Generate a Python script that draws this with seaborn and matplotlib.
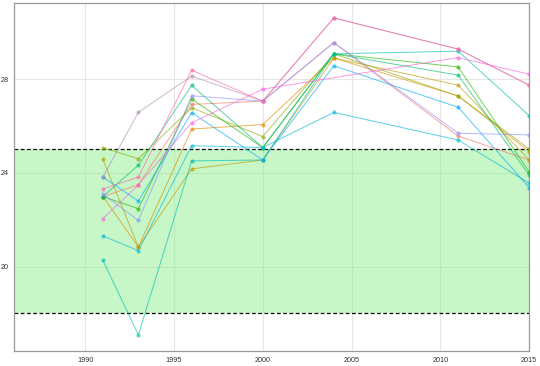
import numpy as np
import pandas as pd
import matplotlib
matplotlib.use("Agg")
import matplotlib.pyplot as plt
import seaborn as sns

years = [1991, 1993, 1996, 2000, 2004, 2011, 2015]
series_names = ["S01", "S02", "S03", "S04", "S05", "S06", "S07",
                "S08", "S09", "S10", "S11", "S12", "S13"]
s01 = [22.99, 23.49, 26.92, 27.06, 29.56, 25.57, 24.55]
s02 = [22.99, 20.84, 25.87, 26.06, 28.90, 27.28, 24.91]
s03 = [24.58, 20.84, 24.17, 24.55, 28.90, 27.74, 24.55]
s04 = [25.08, 24.60, 26.78, 25.55, 29.08, 27.28, 25.02]
s05 = [22.99, 22.47, 27.15, 25.08, 29.08, 28.52, 24.04]
s06 = [22.99, 24.33, 27.73, 25.08, 29.08, 28.17, 23.90]
s07 = [20.27, 17.09, 24.51, 24.55, 29.08, 29.19, 26.44]
s08 = [21.31, 20.68, 25.16, 25.08, 26.58, 25.40, 23.56]
s09 = [23.82, 22.80, 26.57, 24.55, 28.57, 26.80, 23.37]
s10 = [23.10, 21.97, 27.29, 27.06, 29.56, 25.69, 25.62]
s11 = [23.82, 26.58, 28.13, 27.06, 30.61, 29.28, 27.74]
s12 = [22.04, 23.49, 26.14, 27.57, np.nan, 28.92, 28.21]
s13 = [23.31, 23.82, 28.38, 27.06, 30.61, 29.28, 27.74]
all_series = [s01, s02, s03, s04, s05, s06, s07, s08, s09, s10, s11, s12, s13]

x_ticks = [1990, 1995, 2000, 2005, 2010, 2015]
y_ticks = [20, 24, 28]
band_low, band_high = 18, 25

palette = ["#F8766D", "#E18A00", "#BE9C00", "#8CAB00", "#24B700", "#00BE70",
           "#00C1AB", "#00BBDA", "#00ACFC", "#8B93FF", "#B58FB5", "#F962DD", "#FF65AC"]

rows = []
for name, vals in zip(series_names, all_series):
    for yr, v in zip(years, vals):
        if not np.isnan(v):
            rows.append({"series": name, "year": yr, "value": v})
df = pd.DataFrame(rows)

sns.set_style("white")
plt.rcParams["font.family"] = ["Liberation Sans", "DejaVu Sans"]

fig = plt.figure(figsize=(5.4, 3.66), dpi=100)
ax = fig.add_axes([0.026, 0.041, 0.954, 0.951])

ax.axhspan(band_low, band_high, color="#90EE90", alpha=0.5, lw=0, zorder=1)
for yv in (band_low, band_high):
    ax.axhline(yv, color="black", ls=(0, (3, 2)), lw=0.9, zorder=2)

sns.lineplot(data=df, x="year", y="value", hue="series", palette=palette,
             marker="o", markersize=3, markeredgewidth=0, linewidth=0.7,
             alpha=0.65, legend=False, estimator=None, sort=True, ax=ax, zorder=3)

ax.set_xlim(1986, 2015)
ax.set_ylim(16.4, 31.25)
ax.set_xticks(x_ticks)
ax.set_yticks(y_ticks)
ax.set_xlabel("")
ax.set_ylabel("")
ax.grid(True, color="#e6e6e6", lw=0.8, zorder=0)
ax.set_axisbelow(True)
for s in ax.spines.values():
    s.set_color("#9a9a9a")
    s.set_linewidth(0.9)
ax.tick_params(axis="both", labelsize=5.2, colors="#333333", length=2.5, width=0.6, pad=1.5)
ax.tick_params(axis="both", color="#555555")

fig.savefig("out.png", dpi=100)
